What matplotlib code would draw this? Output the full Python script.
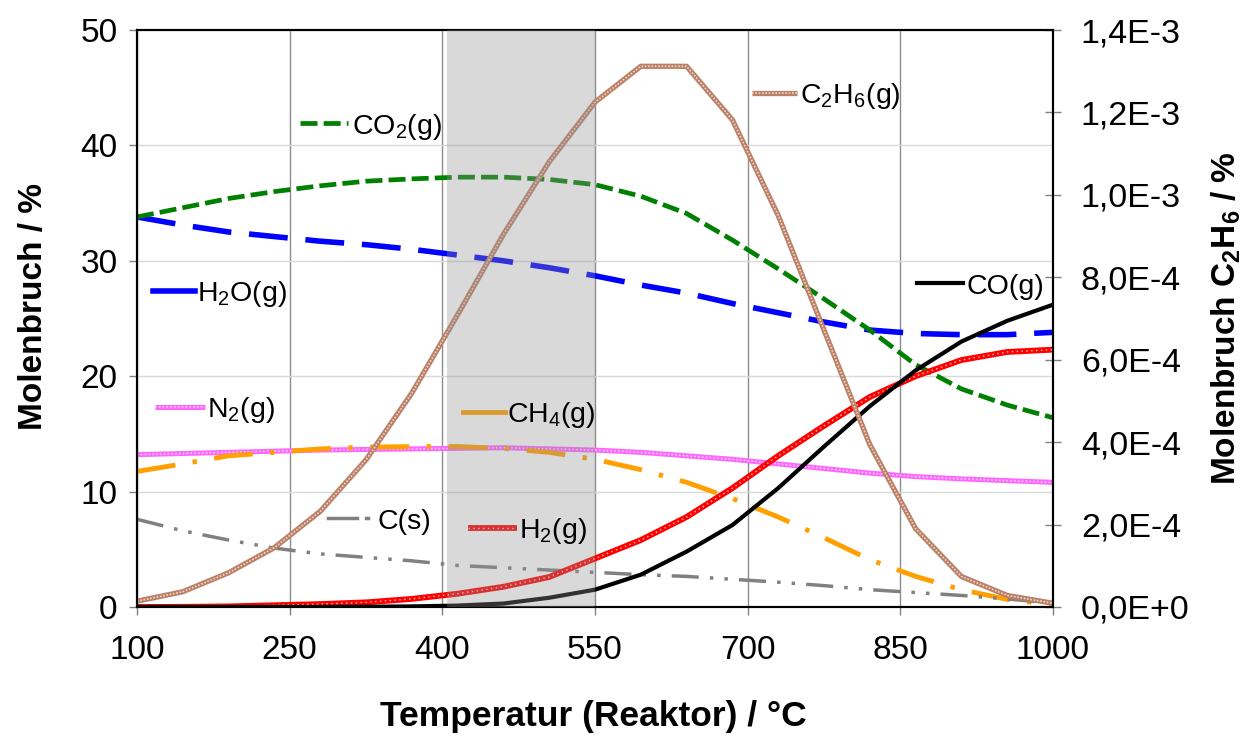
import numpy as np
from matplotlib import pyplot as plt
from matplotlib.ticker import FuncFormatter

plt.rcParams['font.family'] = 'Liberation Sans'
plt.rcParams['mathtext.fontset'] = 'custom'
plt.rcParams['mathtext.rm'] = 'Liberation Sans'
plt.rcParams['mathtext.bf'] = 'Liberation Sans:bold'

# reactor temperature / degC
temp = [100, 145, 190, 235, 280, 325, 370, 415, 460, 505, 550,
        595, 640, 685, 730, 775, 820, 865, 910, 955, 1000]

# mole fractions / %
co2 = [33.8, 34.6, 35.4, 36.0, 36.5, 36.9, 37.1, 37.25, 37.25, 37.05, 36.6,
       35.6, 34.1, 31.8, 29.3, 26.7, 24.0, 21.0, 18.9, 17.5, 16.4]
h2o = [33.8, 33.1, 32.5, 32.1, 31.7, 31.4, 31.0, 30.5, 30.0, 29.4, 28.7,
       27.9, 27.2, 26.3, 25.5, 24.7, 24.0, 23.7, 23.6, 23.6, 23.8]
n2 = [13.2, 13.3, 13.4, 13.5, 13.6, 13.65, 13.7, 13.75, 13.8, 13.7, 13.6,
      13.4, 13.1, 12.8, 12.4, 12.0, 11.6, 11.3, 11.1, 10.95, 10.8]
ch4 = [11.75, 12.4, 13.1, 13.4, 13.7, 13.85, 13.9, 13.9, 13.75, 13.4, 12.8,
       11.9, 10.8, 9.4, 7.8, 6.0, 4.1, 2.65, 1.5, 0.66, 0.2]
c_s = [7.6, 6.6, 5.8, 5.1, 4.6, 4.3, 4.0, 3.6, 3.4, 3.2, 3.0,
       2.8, 2.65, 2.4, 2.15, 1.85, 1.5, 1.25, 1.0, 0.7, 0.33]
h2 = [0.0, 0.01, 0.05, 0.15, 0.25, 0.4, 0.7, 1.15, 1.75, 2.6, 4.2,
      5.8, 7.8, 10.3, 13.1, 15.7, 18.2, 20.0, 21.4, 22.1, 22.3]
co = [0.0, 0.0, 0.0, 0.0, 0.01, 0.02, 0.05, 0.12, 0.3, 0.8, 1.5,
      2.8, 4.8, 7.1, 10.3, 13.9, 17.4, 20.5, 23.0, 24.8, 26.2]
# ethane on the secondary axis
c2h6 = [1.4e-5, 3.7e-5, 8.3e-5, 1.44e-4, 2.32e-4, 3.57e-4, 5.19e-4, 7.09e-4,
        9.04e-4, 1.08e-3, 1.225e-3, 1.312e-3, 1.312e-3, 1.182e-3, 9.5e-4,
        6.72e-4, 3.94e-4, 1.9e-4, 7.4e-5, 2.8e-5, 9e-6]

x_ticks = [100, 250, 400, 550, 700, 850, 1000]
y_ticks = [0, 10, 20, 30, 40, 50]
c2h6_ticks = [0, 2e-4, 4e-4, 6e-4, 8e-4, 1e-3, 1.2e-3, 1.4e-3]
window = (405, 550)

styles = {
    'co2': dict(color='#008000', lw=3.4, ls=(0, (3.6, 1.3))),
    'h2o': dict(color='#0000ff', lw=4.0, ls=(0, (7.0, 3.2))),
    'ch4': dict(color='#ffa000', lw=3.5, ls=(0, (8.0, 3.6, 0.9, 3.6))),
    'cs': dict(color='#808080', lw=2.5, ls=(0, (7.8, 3.2, 1.0, 3.2, 1.0, 3.2))),
    'co': dict(color='black', lw=3.0, ls='-'),
}
n2_style = dict(base='#ff66ff', dots='#ffe0ff', lw=3.6, dlw=1.1, dash=(1, 1.5))
h2_style = dict(base='#ff0000', dots='#ffd0d0', lw=4.2, dlw=1.0, dash=(1, 2.5))
c2h6_style = dict(base='#bb8068', dots='#efd6c8', lw=3.8, dlw=1.2, dash=(1, 1))


def sci_comma(v, pos):
    if v == 0:
        return '0,0E+0'
    e = int(np.floor(np.log10(v) + 1e-9))
    return ('%.1f' % (v / 10.0**e)).replace('.', ',') + 'E%+d' % e


def textured(ax, x, y, base, dots, lw=3.0, dlw=1.0, dash=(1, 1.5), **kw):
    ax.plot(x, y, color=base, lw=lw, solid_capstyle='butt', **kw)
    ax.plot(x, y, color=dots, lw=dlw, ls=(0, dash), **kw)


def main():
    fig = plt.figure(figsize=(12.5, 7.36), dpi=100)
    ax = fig.add_axes([0.1096, 0.1753, 0.7328, 0.7839])
    ax2 = ax.twinx()

    ax.plot(temp, h2o, **styles['h2o'])
    ax.plot(temp, co2, **styles['co2'])
    textured(ax, temp, n2, **n2_style)
    ax.plot(temp, ch4, **styles['ch4'])
    ax.plot(temp, c_s, **styles['cs'])
    textured(ax, temp, h2, **h2_style)
    ax.plot(temp, co, **styles['co'])
    textured(ax2, temp, c2h6, **c2h6_style)

    ax2.axvspan(*window, color='#929292', alpha=0.35, lw=0, zorder=5)

    ax.set_xlim(100, 1000)
    ax.set_ylim(0, 50)
    ax2.set_ylim(0, 1.4e-3)
    ax.set_xticks(x_ticks)
    ax.set_yticks(y_ticks)
    ax2.set_yticks(c2h6_ticks)
    ax2.yaxis.set_major_formatter(FuncFormatter(sci_comma))

    ax.xaxis.grid(True, color='#8c8c8c', lw=1.0)
    ax.yaxis.grid(True, color='#d9d9d9', lw=1.0)

    ax.tick_params(axis='x', direction='out', length=6, width=1, pad=14,
                   labelsize=24, color='#808080')
    ax.tick_params(axis='y', direction='out', length=6, width=1, pad=8,
                   labelsize=24, color='#808080')
    ax2.tick_params(axis='y', direction='inout', length=12, width=1, pad=14,
                    labelsize=24.5, color='#808080')
    for a in (ax, ax2):
        for s in a.spines.values():
            s.set_color('black')
            s.set_linewidth(1.5)

    ax.set_xlabel('Temperatur (Reaktor) / °C', fontsize=25.5, fontweight='bold')
    ax.set_ylabel('Molenbruch / %', fontsize=24, fontweight='bold')
    ax2.set_ylabel(r'Molenbruch C$_\mathbf{2}$H$_\mathbf{6}$ / %',
                   fontsize=24, fontweight='bold')
    ax.xaxis.set_label_coords(0.498, -0.162)
    ax.yaxis.set_label_coords(-0.096, 0.52)
    ax2.yaxis.set_label_coords(1.171, 0.5)

    # series labels with short keys
    tr = ax.transAxes
    ax.plot([0.178, 0.230], [0.838, 0.838], transform=tr, **styles['co2'])
    ax.plot([0.017, 0.063], [0.548, 0.548], transform=tr, color='#0000ff', lw=4.0)
    textured(ax, [0.020, 0.074], [0.347, 0.347], transform=tr, **n2_style)
    ax.plot([0.356, 0.402], [0.338, 0.338], transform=tr, color='#ffa000', lw=3.5)
    ax.plot([0.208, 0.240], [0.154, 0.154], transform=tr, color='#808080', lw=2.5)
    ax.plot([0.250, 0.252], [0.154, 0.154], transform=tr, color='#808080', lw=2.5)
    textured(ax, [0.361, 0.415], [0.137, 0.137], transform=tr, **h2_style)
    textured(ax, [0.671, 0.721], [0.891, 0.891], transform=tr, **c2h6_style)
    ax.plot([0.852, 0.902], [0.561, 0.561], transform=tr, color='black', lw=3.0)

    labels = [
        (0.235, 0.838, 'CO$_2$(g)'),
        (0.066, 0.548, 'H$_2$O(g)'),
        (0.076, 0.347, 'N$_2$(g)'),
        (0.404, 0.338, 'CH$_4$(g)'),
        (0.263, 0.154, 'C(s)'),
        (0.417, 0.137, 'H$_2$(g)'),
        (0.724, 0.891, 'C$_2$H$_6$(g)'),
        (0.906, 0.561, 'CO(g)'),
    ]
    for lx, ly, txt in labels:
        ax2.text(lx, ly - 0.018, txt, transform=ax2.transAxes, fontsize=20.5,
                 ha='left', va='baseline', zorder=10)

    fig.savefig('out.png', dpi=100)


if __name__ == '__main__':
    main()
